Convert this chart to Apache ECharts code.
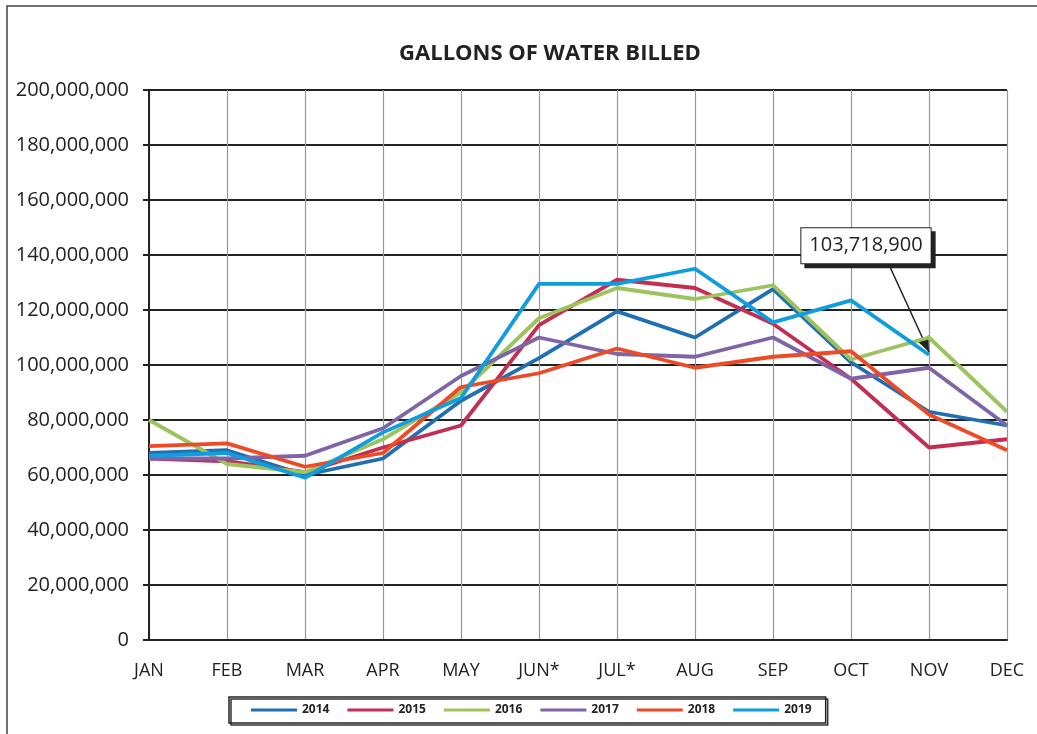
<!DOCTYPE html>
<html>
<head>
<meta charset="utf-8">
<script src="https://cdn.jsdelivr.net/npm/echarts@6/dist/echarts.min.js"></script>
<style>
  html, body { margin: 0; padding: 0; background: #fff; }
  #chart { width: 1037px; height: 734px; }
</style>
</head>
<body>
<div id="chart"></div>
<script>
const months = ['JAN', 'FEB', 'MAR', 'APR', 'MAY', 'JUN*', 'JUL*', 'AUG', 'SEP', 'OCT', 'NOV', 'DEC'];

// millions of gallons
const y2014 = [68, 69, 60, 66, 87, 102.5, 119.5, 110, 127.6, 101, 83, 78];
const y2015 = [66, 65, 61, 70, 78, 114.5, 131, 128, 115, 95, 70, 73];
const y2016 = [80, 64, 61, 73, 90, 117, 128, 124, 129, 102, 110, 83];
const y2017 = [66, 66, 67, 77, 96, 110, 104, 103, 110, 95, 99, 78];
const y2018 = [70.5, 71.5, 63, 68, 92, 97, 106, 99, 103, 105, 82, 69];
const y2019 = [67, 68, 59, 75.5, 88, 129.5, 129.5, 135, 115.5, 123.5, 103.7189, null];

const years = ['2014', '2015', '2016', '2017', '2018', '2019'];
const colors = ['#1f6fb2', '#c22f52', '#9cc35e', '#8064a8', '#ee4a25', '#0f9de0'];
const yTicks = [0, 20000000, 40000000, 60000000, 80000000, 100000000, 120000000, 140000000, 160000000, 180000000, 200000000];

const toGallons = arr => arr.map(v => v == null ? null : Math.round(v * 1000000));
const allSeries = [y2014, y2015, y2016, y2017, y2018, y2019].map(toGallons);

const chart = echarts.init(document.getElementById('chart'));

const font = '"Open Sans", "Noto Sans", sans-serif';

const series = years.map((name, i) => {
  const s = {
    name: name,
    type: 'line',
    data: allSeries[i],
    showSymbol: false,
    symbol: 'none',
    lineStyle: { width: 3.8, color: colors[i] },
    itemStyle: { color: colors[i] },
    z: 3 + i
  };
  if (name === '2019') {
    s.markPoint = {
      symbol: 'circle',
      symbolSize: 0,
      data: [{ coord: ['NOV', allSeries[i][10]], value: allSeries[i][10] }],
      label: {
        show: true,
        formatter: p => p.value.toLocaleString('en-US'),
        color: '#222',
        fontFamily: font,
        fontSize: 20,
        backgroundColor: '#fff',
        borderColor: '#222',
        borderWidth: 1,
        padding: [8, 8, 7, 8],
        shadowColor: '#222',
        shadowOffsetX: 4,
        shadowOffsetY: 4,
        shadowBlur: 0,
        offset: [-63, -109]
      }
    };
    s.markLine = {
      silent: true,
      symbol: ['arrow', 'none'],
      symbolSize: [10, 16],
      lineStyle: { color: '#222', width: 1.5, type: 'solid' },
      label: { show: false },
      data: [[
        { coord: ['NOV', allSeries[i][10] + 1000000] },
        { x: 890, y: 267 }
      ]]
    };
  }
  return s;
});

const option = {
  animation: false,
  backgroundColor: '#fff',
  title: {
    text: 'GALLONS OF WATER BILLED',
    left: 545,
    textAlign: 'center',
    top: 38,
    textStyle: { fontFamily: font, fontSize: 22, fontWeight: 'bold', color: '#222' }
  },
  graphic: [
    {
      type: 'rect',
      shape: { x: 7, y: 6, width: 1040, height: 740 },
      style: { fill: 'none', stroke: '#444', lineWidth: 1.5 },
      silent: true
    }
  ],
  grid: { left: 149, right: 30, top: 90, bottom: 94 },
  legend: {
    data: years,
    left: 229,
    top: 697,
    icon: 'rect',
    itemWidth: 46,
    itemHeight: 3,
    itemGap: 18,
    itemTextGap: 5,
    padding: [7, 14, 7, 22],
    borderColor: '#222',
    borderWidth: 1.5,
    shadowColor: '#333',
    shadowOffsetX: 2,
    shadowOffsetY: 2,
    textStyle: { fontFamily: font, fontSize: 12, fontWeight: 'bold', color: '#222' }
  },
  xAxis: {
    type: 'category',
    data: months,
    boundaryGap: false,
    axisLine: { lineStyle: { color: '#222', width: 2 } },
    axisTick: { show: false },
    splitLine: { show: true, lineStyle: { color: '#999', width: 1.2 } },
    axisLabel: { fontFamily: font, fontSize: 18, color: '#222', margin: 22 }
  },
  yAxis: {
    type: 'value',
    min: yTicks[0],
    max: yTicks[yTicks.length - 1],
    interval: 20000000,
    axisLine: { show: true, lineStyle: { color: '#222', width: 2 } },
    axisTick: { show: true, length: 6, lineStyle: { color: '#222', width: 2 } },
    splitLine: { lineStyle: { color: '#222', width: 2.2 } },
    axisLabel: {
      fontFamily: font, fontSize: 20, color: '#222', margin: 20,
      formatter: v => v.toLocaleString('en-US')
    }
  },
  series: series
};

chart.setOption(option);
</script>
</body>
</html>
